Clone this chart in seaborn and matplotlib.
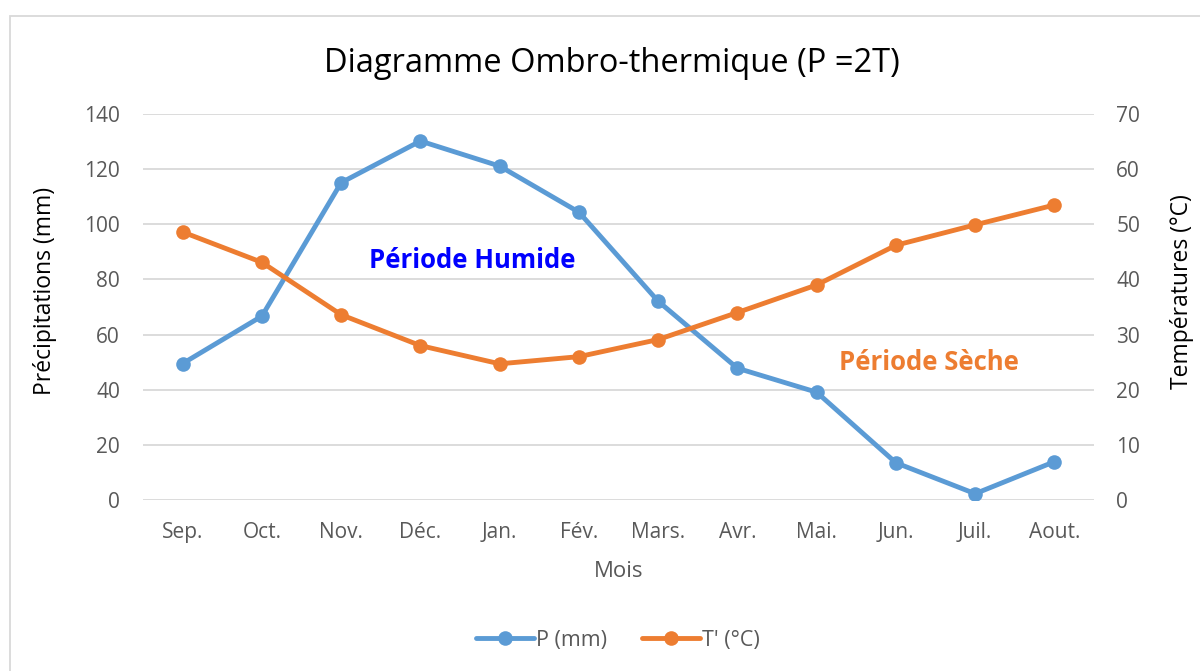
import matplotlib
matplotlib.use("Agg")
import matplotlib.pyplot as plt
import seaborn as sns
import pandas as pd
from matplotlib.patches import Rectangle
from matplotlib.lines import Line2D

months = ["Sep.", "Oct.", "Nov.", "Déc.", "Jan.", "Fév.", "Mars.", "Avr.", "Mai.", "Jun.", "Juil.", "Aout."]
precip = [49.5, 66.7, 115.1, 130.2, 121.1, 104.4, 72.1, 47.8, 39.1, 13.5, 2.3, 13.9]
temp = [48.6, 43.1, 33.6, 28.0, 24.7, 26.0, 29.1, 34.0, 39.0, 46.2, 49.9, 53.5]
left_ticks = [0, 20, 40, 60, 80, 100, 120, 140]
right_ticks = [0, 10, 20, 30, 40, 50, 60, 70]

sns.set_style("white")
plt.rcParams["font.family"] = ["Open Sans", "DejaVu Sans"]

BLUE = "#5B9BD5"
ORANGE = "#ED7D31"
GRAY = "#595959"
GRID = "#D9D9D9"

df = pd.DataFrame({"Mois": months, "x": range(len(months)), "P": precip, "T": temp})

fig = plt.figure(figsize=(12, 6.71), dpi=100)
ax1 = fig.add_axes([0.1192, 0.2548, 0.7925, 0.5753])
ax2 = ax1.twinx()

LW = 3.5
MS = 10.5
sns.lineplot(data=df, x="x", y="P", ax=ax1, color=BLUE, linewidth=LW,
             marker="o", markersize=MS, markeredgewidth=0, sort=False)
sns.lineplot(data=df, x="x", y="T", ax=ax2, color=ORANGE, linewidth=LW,
             marker="o", markersize=MS, markeredgewidth=0, sort=False)

ax1.set_xlim(-0.5, len(months) - 0.5)
ax1.set_ylim(0, 140)
ax2.set_ylim(0, 70)
ax1.set_yticks(left_ticks)
ax2.set_yticks(right_ticks)
ax1.set_xticks(range(len(months)))
ax1.set_xticklabels(months)

ax1.grid(axis="y", color=GRID, linewidth=1.3)
ax1.set_axisbelow(True)
for ax in (ax1, ax2):
    for s in ax.spines.values():
        s.set_visible(False)
    ax.tick_params(length=0, labelsize=15, colors=GRAY)
ax1.tick_params(axis="y", pad=16.5)
ax1.tick_params(axis="x", pad=16)
ax2.tick_params(axis="y", pad=16)

ax1.set_xlabel("Mois", fontsize=16, color=GRAY, labelpad=13)
ax1.set_ylabel("Précipitations (mm)", fontsize=16.5, color="black", labelpad=19.5)
ax2.set_ylabel("Températures (°C)", fontsize=16.5, color="black", labelpad=21.5)
ax1.yaxis.label.set_y(0.541)
ax2.yaxis.label.set_y(0.541)

ax1.text(3.65, 87, "Période Humide", color="#0000FF", fontsize=18.5,
         fontweight="bold", ha="center", va="center")
ax1.text(9.42, 50, "Période Sèche", color=ORANGE, fontsize=18.5,
         fontweight="bold", ha="center", va="center")

fig.text(0.51, 0.905, "Diagramme Ombro-thermique (P =2T)", fontsize=23.5,
         ha="center", va="center", color="black")

handles = [
    Line2D([], [], color=BLUE, linewidth=LW, marker="o", markersize=MS, markeredgewidth=0),
    Line2D([], [], color=ORANGE, linewidth=LW, marker="o", markersize=MS, markeredgewidth=0),
]
fig.legend(handles, ["P (mm)", "T' (°C)"], loc="center", bbox_to_anchor=(0.515, 0.046),
           ncol=2, frameon=False, fontsize=15.5, labelcolor=GRAY,
           handlelength=2.7, columnspacing=1.6, handletextpad=0.1)

fig.patches.append(Rectangle((10 / 1200, -0.1), 1.2, 1 - 16 / 671 + 0.1,
                             transform=fig.transFigure, fill=False,
                             edgecolor="#D9D9D9", linewidth=1.3))

fig.savefig("out.png", dpi=100)
